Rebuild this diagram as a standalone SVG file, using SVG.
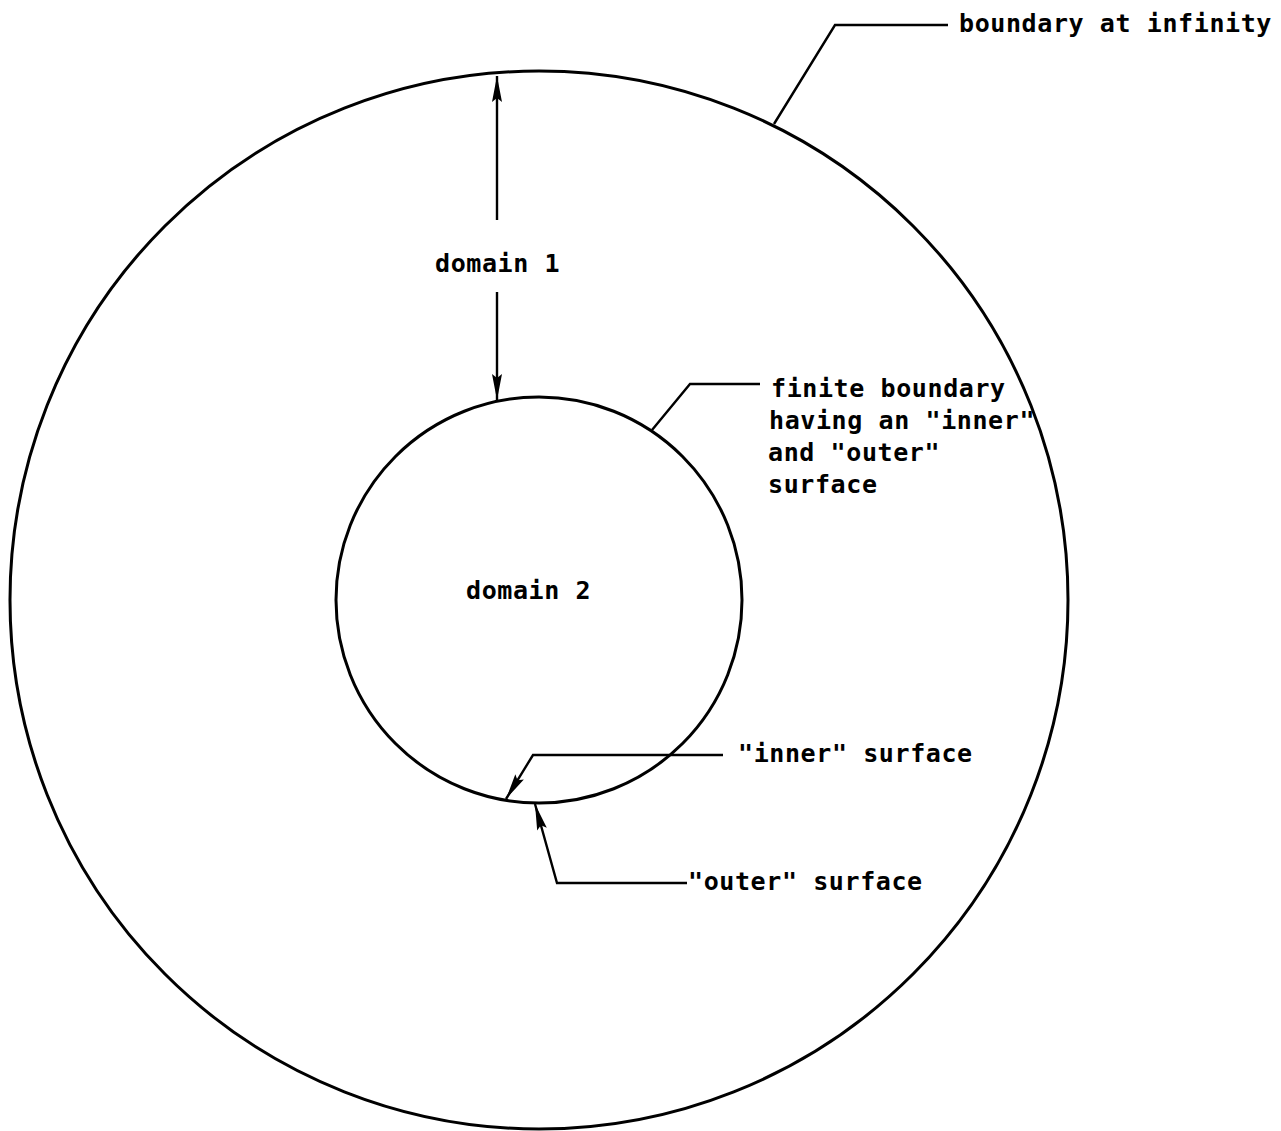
<svg xmlns="http://www.w3.org/2000/svg" width="1281" height="1131" viewBox="0 0 1281 1131">
<style>
.bd{fill:none;stroke:#000;stroke-width:3}
.ld{fill:none;stroke:#000;stroke-width:2.4}
.t{font-family:"DejaVu Sans Mono","Liberation Mono",monospace;font-size:25px;font-weight:bold;letter-spacing:0.6px;fill:#000}
</style>
<defs>
<marker id="ah" viewBox="-27 -6 28 12" refX="0" refY="0" markerWidth="28" markerHeight="12" markerUnits="userSpaceOnUse" orient="auto">
<path d="M0,0 L-26,-5 L-22,0 L-26,5 Z" fill="#000"/>
</marker>
</defs>
<rect width="1281" height="1131" fill="#fff"/>
<g id="outer-boundary">
<circle class="bd" cx="539" cy="600" r="529"/>
</g>
<g id="finite-boundary">
<circle class="bd" cx="539" cy="600" r="203"/>
</g>
<g id="labels">
<text class="t" x="959" y="32">boundary at infinity</text>
<text class="t" x="435" y="272">domain 1</text>
<text class="t" x="466" y="599">domain 2</text>
<text class="t" x="771" y="397">finite boundary</text>
<text class="t" x="769" y="429">having an "inner"</text>
<text class="t" x="768" y="461">and "outer"</text>
<text class="t" x="768" y="493">surface</text>
<text class="t" x="738" y="762">"inner" surface</text>
<text class="t" x="688" y="890">"outer" surface</text>
</g>
<g id="connectors">
<polyline class="ld" points="948,25 835,25 774,124"/>
<polyline class="ld" points="760,384 690,384 652,430"/>
<line class="ld" x1="497" y1="220" x2="497" y2="76" marker-end="url(#ah)"/>
<line class="ld" x1="497" y1="292" x2="497" y2="400" marker-end="url(#ah)"/>
<polyline class="ld" points="723,755 533,755 506,799" marker-end="url(#ah)"/>
<polyline class="ld" points="687,883 557,883 535,804" marker-end="url(#ah)"/>
</g>
</svg>
